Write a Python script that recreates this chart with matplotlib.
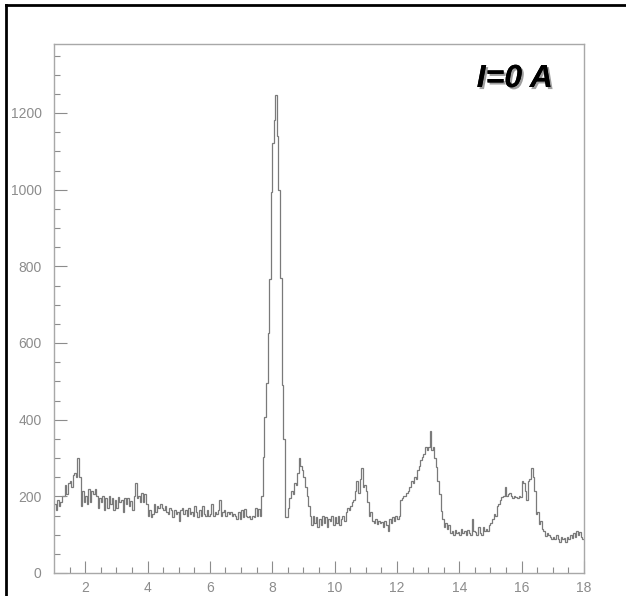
import numpy as np
import matplotlib
matplotlib.use("Agg")
import matplotlib.pyplot as plt
import matplotlib.patheffects as pe
from matplotlib.lines import Line2D

# histogram: 340 bins of width 0.05 from 1 to 18
x_lo, x_hi, bin_w = 1.0, 18.0, 0.05
counts = [
    180, 165, 190, 175, 185, 200, 200, 230, 205, 235,   # 1.0
    240, 225, 255, 262, 250, 300, 250, 175, 215, 185,   # 1.5
    200, 180, 220, 185, 215, 205, 220, 200, 170, 195,   # 2.0
    185, 200, 165, 195, 170, 200, 180, 195, 165, 190,   # 2.5
    170, 198, 185, 190, 160, 195, 180, 195, 175, 188,   # 3.0
    165, 200, 235, 195, 200, 185, 210, 185, 205, 180,   # 3.5
    150, 165, 145, 155, 180, 160, 175, 170, 180, 170,   # 4.0
    165, 175, 160, 155, 170, 165, 145, 165, 155, 160,   # 4.5
    135, 165, 170, 155, 165, 150, 170, 155, 160, 150,   # 5.0
    175, 160, 145, 165, 150, 175, 155, 150, 165, 148,   # 5.5
    155, 180, 150, 160, 155, 165, 190, 150, 160, 165,   # 6.0
    150, 160, 155, 160, 150, 155, 150, 140, 160, 140,   # 6.5
    165, 145, 168, 150, 145, 150, 140, 148, 145, 170,   # 7.0
    150, 168, 150, 200, 302, 407, 496, 627, 766, 995,   # 7.5
    1121, 1181, 1247, 1140, 1000, 770, 490, 350, 145, 145,  # 8.0
    170, 195, 215, 205, 235, 230, 260, 300, 280, 270,   # 8.5
    250, 225, 200, 175, 150, 125, 150, 130, 145, 120,   # 9.0
    140, 125, 148, 130, 145, 120, 140, 135, 150, 125,   # 9.5
    145, 130, 150, 125, 140, 150, 135, 160, 170, 165,   # 10.0
    175, 185, 190, 215, 240, 210, 245, 275, 225, 230,   # 10.5
    215, 185, 150, 160, 135, 130, 140, 128, 135, 130,   # 11.0
    132, 120, 135, 125, 110, 140, 130, 145, 135, 150,   # 11.5
    140, 150, 190, 195, 200, 200, 210, 215, 225, 240,   # 12.0
    235, 250, 245, 268, 280, 294, 303, 310, 329, 320,   # 12.5
    330, 370, 320, 328, 300, 276, 241, 206, 163, 140,   # 13.0
    119, 130, 115, 125, 105, 110, 100, 112, 105, 108,   # 13.5
    98, 115, 105, 110, 100, 112, 105, 100, 141, 110,    # 14.0
    108, 100, 120, 105, 100, 119, 110, 115, 110, 125,   # 14.5
    130, 140, 155, 150, 175, 180, 190, 198, 200, 224,   # 15.0
    200, 205, 210, 202, 195, 200, 198, 195, 200, 198,   # 15.5
    241, 235, 215, 190, 241, 245, 275, 250, 215, 154,   # 16.0
    160, 128, 135, 115, 110, 97, 105, 100, 95, 90,      # 16.5
    95, 88, 100, 90, 82, 95, 88, 92, 80, 95,            # 17.0
    88, 100, 92, 105, 95, 110, 100, 108, 95, 88,        # 17.5
]
y_top = 1380
x_major = [2, 4, 6, 8, 10, 12, 14, 16, 18]
y_major = [0, 200, 400, 600, 800, 1000, 1200]
label = "I=0 A"

edges = np.linspace(x_lo, x_hi, len(counts) + 1)

fig = plt.figure(figsize=(6.26, 5.96), dpi=100)
ax = fig.add_axes([54 / 626, 23 / 596, 530 / 626, 529 / 596])

ax.stairs(counts, edges, baseline=None, color="#7a7a7a", lw=0.9)

ax.set_xlim(x_lo, x_hi)
ax.set_ylim(0, y_top)
ax.set_xticks(x_major)
ax.set_xticks(np.arange(1.5, 18.0, 0.5), minor=True)
ax.set_yticks(y_major)
ax.set_yticks(np.arange(50, y_top, 50), minor=True)

grey = "#8c8c8c"
for s in ax.spines.values():
    s.set_color("#a8a8a8")
    s.set_linewidth(1.0)
ax.tick_params(which="both", direction="in", color=grey, width=0.8,
               top=False, right=False)
ax.tick_params(which="major", length=9)
ax.tick_params(which="minor", length=4.5)
ax.tick_params(axis="x", which="major", pad=6, labelsize=10, labelcolor=grey)
ax.tick_params(axis="y", which="major", pad=9, labelsize=10, labelcolor=grey)
for t in ax.get_xticklabels() + ax.get_yticklabels():
    t.set_family("Liberation Sans")

# label with drop shadow
fig.text(553 / 626, 1 - 87 / 596, label, ha="right", va="baseline",
         fontsize=23, fontweight="bold", fontstyle="italic",
         family="Liberation Sans", color="black",
         path_effects=[pe.withSimplePatchShadow(offset=(1.5, -1.5),
                                                shadow_rgbFace="#777777",
                                                alpha=0.7),
                       pe.Normal()])

# black page border on the top and left
fig.add_artist(Line2D([6 / 626, 1.0], [1 - 5 / 596, 1 - 5 / 596],
                      transform=fig.transFigure, color="black", lw=2))
fig.add_artist(Line2D([6 / 626, 6 / 626], [0.0, 1 - 5 / 596],
                      transform=fig.transFigure, color="black", lw=2))

fig.savefig("out.png", dpi=100)
